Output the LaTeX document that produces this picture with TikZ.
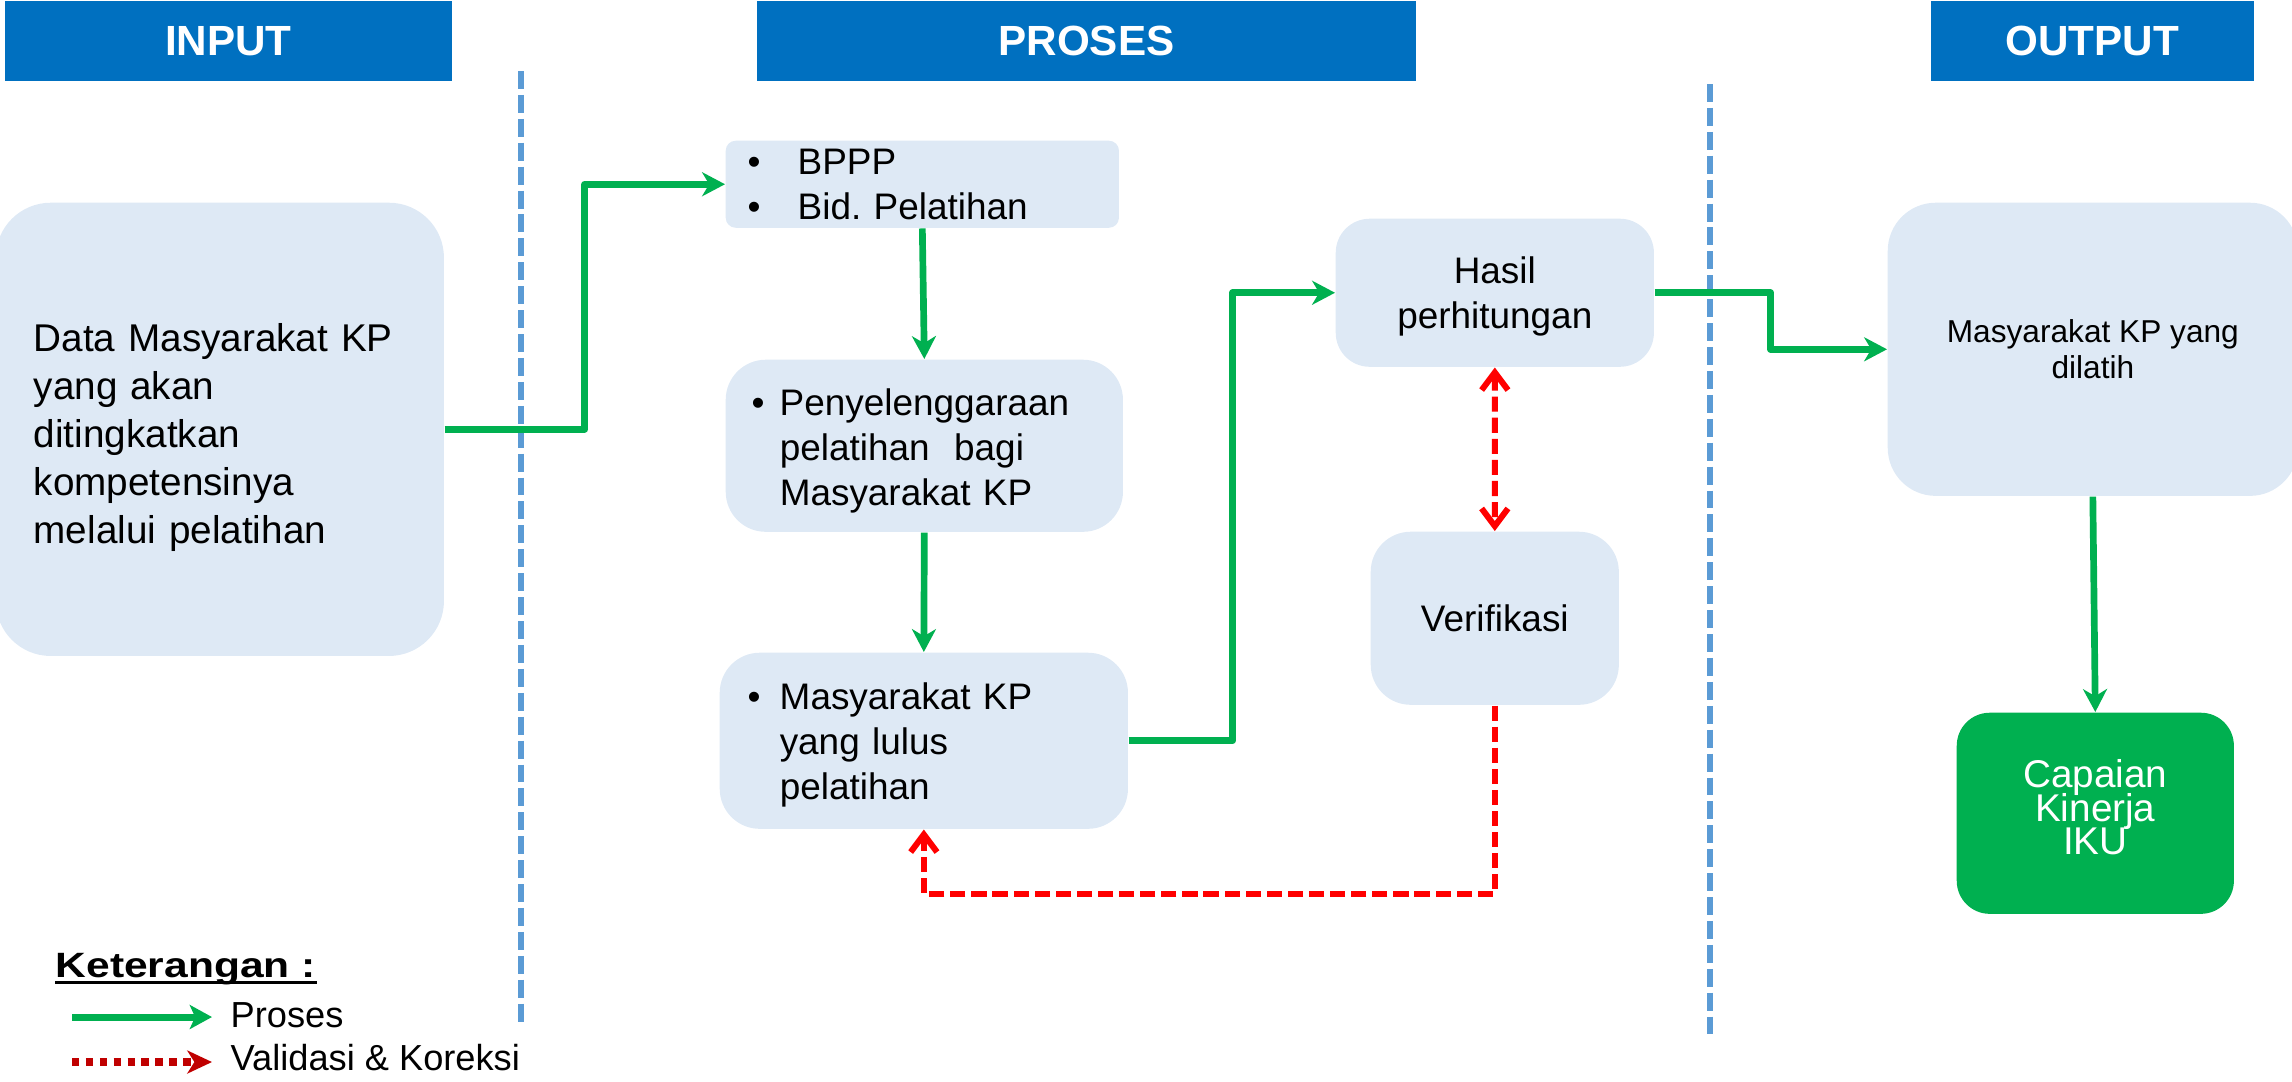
\documentclass[tikz,border=0pt]{standalone}
\usepackage{graphicx}
\usepackage{fontspec}
\setmainfont{Liberation Sans}
\usetikzlibrary{arrows.meta}

\definecolor{hdrblue}{HTML}{0070C0}
\definecolor{boxfill}{HTML}{DEE9F5}
\definecolor{flowgreen}{HTML}{00B050}
\definecolor{divblue}{HTML}{5B9BD5}
\definecolor{checkred}{HTML}{FF0000}
\definecolor{legendred}{HTML}{C00000}

% allow lines closer than their glyph extents
\newcommand\tightlines{\setlength{\lineskiplimit}{-20pt}}
% invisible strut that lowers a text block inside its box
\newcommand\topstrut[1]{\rule{0pt}{#1}}

\begin{document}
\begin{tikzpicture}[x=0.01cm, y=-0.01cm,
  hdr/.style={fill=hdrblue, text=white, inner sep=0pt, anchor=north west,
    minimum height=0.80cm, font=\fontsize{12}{14}\selectfont\bfseries},
  panel/.style={fill=boxfill, inner sep=0pt, anchor=north west,
    font=\fontsize{10.5}{12.7}\selectfont},
  flow/.style={draw=flowgreen, line width=1.9pt, line join=round,
    -{Stealth[length=6.5pt,width=6.8pt,inset=2pt]}},
  check/.style={draw=checkred, line width=1.7pt,
    dash pattern=on 4.3pt off 1.7pt},
  divider/.style={draw=divblue, line width=1.6pt,
    dash pattern=on 5.1pt off 1.7pt},
  legtext/.style={anchor=base west, inner sep=0pt,
    font=\fontsize{10.3}{12}\selectfont}]

\useasboundingbox (0,0) rectangle (2292,1081);

% column headers
\node[hdr, minimum width=4.47cm] (hin)  at (4,0)    {INPUT};
\node[hdr, minimum width=6.59cm] (hpr)  at (756,0)  {PROSES};
\node[hdr, minimum width=3.23cm] (hout) at (1930,0) {OUTPUT};

% column separators
\coordinate (d1t) at (521,71);   \coordinate (d1b) at (521,1023);
\coordinate (d2t) at (1710,84);  \coordinate (d2b) at (1710,1034);
\draw[divider] (d1t) -- (d1b);
\draw[divider] (d2t) -- (d2b);

% input
\node[panel, rounded corners=0.55cm, minimum width=4.48cm, minimum height=4.53cm,
  text width=3.72cm, align=left, font=\fontsize{11}{13.6}\selectfont]
  (data) at (-5,202)
  {\topstrut{12.6pt}Data Masyarakat KP\\yang akan\\ditingkatkan\\kompetensinya\\melalui pelatihan};

% process
\node[panel, rounded corners=0.10cm, minimum width=3.93cm, minimum height=0.87cm,
  text width=3.49cm, align=left] (bppp) at (725,140)
  {\makebox[0.5cm][l]{•}BPPP\\\makebox[0.5cm][l]{•}Bid.\ Pelatihan};

\node[panel, rounded corners=0.40cm, minimum width=3.97cm, minimum height=1.72cm,
  text width=3.45cm, align=left] (peny) at (725,359)
  {\topstrut{10.5pt}\makebox[0.28cm][l]{•}Penyelenggaraan\\\hspace*{0.28cm}pelatihan~ bagi\\\hspace*{0.28cm}Masyarakat KP};

\node[panel, rounded corners=0.40cm, minimum width=4.08cm, minimum height=1.76cm,
  text width=3.52cm, align=left] (lulus) at (719,652)
  {\topstrut{10pt}\makebox[0.32cm][l]{•}Masyarakat KP\\\hspace*{0.32cm}yang lulus\\\hspace*{0.32cm}pelatihan};

\node[panel, rounded corners=0.34cm, minimum width=3.18cm, minimum height=1.48cm,
  align=center, text depth=0pt] (hasil) at (1335,218) {Hasil\\perhitungan};

\node[panel, rounded corners=0.40cm, minimum width=2.48cm, minimum height=1.73cm,
  align=center] (verif) at (1370,531) {Verifikasi};

% output
\node[panel, rounded corners=0.48cm, minimum width=4.10cm, minimum height=2.93cm,
  align=center, font=\fontsize{9}{10.4}\selectfont] (dilatih) at (1887,202)
  {Masyarakat KP yang\\dilatih};

\node[panel, fill=flowgreen, text=white, rounded corners=0.33cm,
  minimum width=2.77cm, minimum height=2.01cm, align=center, text depth=3.4pt,
  font={\fontsize{11}{9.5}\selectfont\tightlines}] (iku) at (1956,712)
  {Capaian\\Kinerja\\IKU};

% process flow
\draw[flow] (data.east) -- ++(140,0) |- (bppp.west);
\draw[flow] (bppp.south) -- (peny.north);
\draw[flow] (peny.south) -- (lulus.north);
\draw[flow] (lulus.east) -- ++(104,0) |- (hasil.west);
\draw[flow] (hasil.east) -- ++(116,0) |- (dilatih.west);
\draw[flow] (dilatih.south) -- (iku.north);

% validation and correction
\draw[check, {Straight Barb[length=5pt,width=7.5pt]}-{Straight Barb[length=5pt,width=7.5pt]}]
  (hasil.south) -- (verif.north);
\draw[check, line join=round, -{Straight Barb[length=5pt,width=7.5pt]}]
  (verif.south) -- ++(0,188) -| (lulus.south);

% legend
\node[anchor=base west, inner sep=0pt, font=\fontsize{10}{12}\selectfont\bfseries]
  (legtitle) at (55,977) {\scalebox{1.21}[1]{Keterangan :}};
\draw[line width=0.85pt] ([yshift=-0.05cm]legtitle.base west) -- ([yshift=-0.05cm]legtitle.base east);

\coordinate (lga) at (72,1017);  \coordinate (lgb) at (212,1017);
\draw[draw=flowgreen, line width=2pt,
  -{Stealth[length=6.3pt,width=6.8pt,inset=1.5pt]}] (lga) -- (lgb);
\node[legtext] (legp) at (230,1027) {Proses};

\coordinate (lra) at (72,1062);  \coordinate (lrb) at (212,1062);
\draw[draw=legendred, line width=2.3pt, dash pattern=on 2.1pt off 1.85pt,
  -{Stealth[length=7pt,width=6.5pt,inset=2pt]}] (lra) -- (lrb);
\node[legtext] (legv) at (230,1070) {Validasi \& Koreksi};

\end{tikzpicture}
\end{document}
